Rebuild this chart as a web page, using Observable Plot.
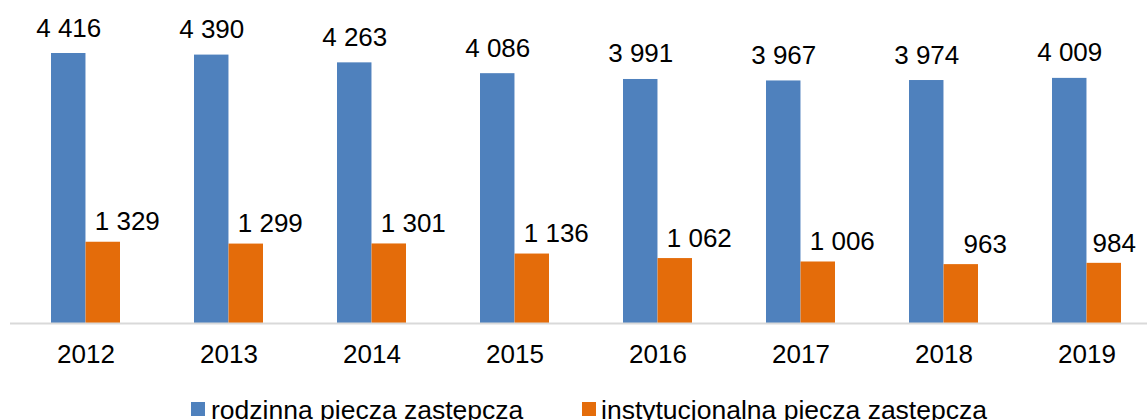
<!DOCTYPE html>
<html><head><meta charset="utf-8">
<script src="https://cdn.jsdelivr.net/npm/d3@7"></script>
<script src="https://cdn.jsdelivr.net/npm/@observablehq/plot@0.6"></script>
<style>
body{margin:0;background:#fff;font-family:"Liberation Sans",Arial,sans-serif;}
#wrap{position:relative;width:1147px;height:420px;overflow:hidden;background:#fff;}
.leg{position:absolute;top:397px;font-size:26.5px;line-height:26.5px;color:#000;white-space:nowrap;}
.sw{position:absolute;width:14px;height:14px;top:402px;}
</style></head><body><div id="wrap"></div>
<script>
const years = ["2012","2013","2014","2015","2016","2017","2018","2019"];
const rodzinna = [4416,4390,4263,4086,3991,3967,3974,4009];
const instytucjonalna = [1329,1299,1301,1136,1062,1006,963,984];
const seriesNames = ["rodzinna piecza zastępcza","instytucjonalna piecza zastępcza"];
const colors = ["#4f81bd","#e46c0a"];

const fmt = d3.formatLocale({thousands:" ", grouping:[3], decimal:",", currency:["",""]}).format(",d");
const rowsA = years.map((y,i)=>({year:y, value:rodzinna[i]}));
const rowsB = years.map((y,i)=>({year:y, value:instytucjonalna[i]}));
const lastYear = years[years.length-1];

const step = (1161-10)/8;
const half = step*(1-0.52)/2;

const chart = Plot.plot({
  width:1147, height:388,
  marginLeft:10, marginRight:0, marginTop:0, marginBottom:65,
  style:{fontFamily:'"Liberation Sans",Arial,sans-serif', color:"#000", background:"#fff", overflow:"visible"},
  x:{domain:years, range:[10,1161], paddingInner:0.52, paddingOuter:0.26, align:0.5},
  y:{domain:[0,4416], range:[323,53], axis:null},
  marks:[
    Plot.barY(rowsA,{x:"year", y:"value", fill:colors[0], insetRight:half}),
    Plot.barY(rowsB,{x:"year", y:"value", fill:colors[1], insetLeft:half}),
    Plot.ruleY([0],{stroke:"#d9d9d9", strokeWidth:2}),
    Plot.text(rowsA,{x:"year", y:"value", text:d=>fmt(d.value), dx:-half/2, dy:-17, lineAnchor:"bottom", fontSize:26, fill:"#000"}),
    Plot.text(rowsB,{filter:d=>d.year!==lastYear, x:"year", y:"value", text:d=>fmt(d.value), dx:half/2+24, dy:-12, lineAnchor:"bottom", fontSize:26, fill:"#000"}),
    Plot.text(rowsB,{filter:d=>d.year===lastYear, x:"year", y:"value", text:d=>fmt(d.value), dx:half/2+10, dy:-11, lineAnchor:"bottom", fontSize:26, fill:"#000"}),
    Plot.axisX({tickSize:0, tickPadding:21, fontSize:26, label:null})
  ]
});
const wrap = document.getElementById("wrap");
wrap.appendChild(chart);

const legX = [[191,211],[582,601]];
seriesNames.forEach((name,i)=>{
  const sw = document.createElement("div");
  sw.className="sw"; sw.style.left=legX[i][0]+"px"; sw.style.background=colors[i];
  wrap.appendChild(sw);
  const t = document.createElement("div");
  t.className="leg"; t.style.left=legX[i][1]+"px"; t.textContent=name;
  wrap.appendChild(t);
});
</script></body></html>
